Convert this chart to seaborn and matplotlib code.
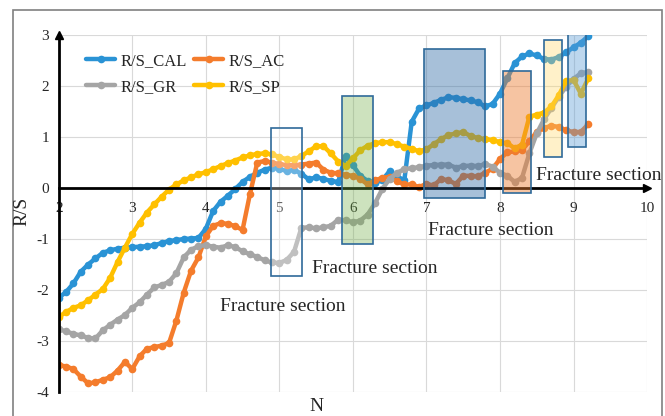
import pandas as pd
import seaborn as sns
import matplotlib.pyplot as plt
from matplotlib.patches import Rectangle

# N values shared by all series
N = [2.0, 2.1, 2.2, 2.3, 2.4, 2.5, 2.6, 2.7, 2.8, 2.9,
     3.0, 3.1, 3.2, 3.3, 3.4, 3.5, 3.6, 3.7, 3.8, 3.9,
     4.0, 4.1, 4.2, 4.3, 4.4, 4.5, 4.6, 4.7, 4.8, 4.9,
     5.0, 5.1, 5.2, 5.3, 5.4, 5.5, 5.6, 5.7, 5.8, 5.9,
     6.0, 6.1, 6.2, 6.3, 6.4, 6.5, 6.6, 6.7, 6.8, 6.9,
     7.0, 7.1, 7.2, 7.3, 7.4, 7.5, 7.6, 7.7, 7.8, 7.9,
     8.0, 8.1, 8.2, 8.3, 8.4, 8.5, 8.6, 8.7, 8.8, 8.9,
     9.0, 9.1, 9.2]

rs_cal = [-2.15, -2.04, -1.87, -1.64, -1.50, -1.38, -1.27, -1.22, -1.19, -1.17,
          -1.16, -1.15, -1.14, -1.12, -1.08, -1.04, -1.02, -1.00, -0.99, -0.98,
          -0.80, -0.45, -0.27, -0.15, -0.02, 0.12, 0.22, 0.30, 0.36, 0.40,
          0.38, 0.33, 0.36, 0.28, 0.17, 0.21, 0.18, 0.14, 0.12, 0.62,
          0.45, 0.24, 0.14, 0.10, 0.16, 0.33, 0.22, 0.16, 1.30, 1.56,
          1.62, 1.67, 1.73, 1.78, 1.77, 1.74, 1.72, 1.68, 1.60, 1.65,
          1.85, 2.15, 2.45, 2.58, 2.64, 2.60, 2.53, 2.52, 2.57, 2.66,
          2.76, 2.85, 2.98]

rs_ac = [-3.47, -3.50, -3.55, -3.70, -3.83, -3.81, -3.76, -3.71, -3.58, -3.41,
         -3.55, -3.30, -3.15, -3.12, -3.09, -3.04, -2.60, -2.05, -1.62, -1.36,
         -0.95, -0.74, -0.69, -0.70, -0.75, -0.82, -0.12, 0.50, 0.53, 0.50,
         0.47, 0.45, 0.45, 0.46, 0.48, 0.50, 0.36, 0.30, 0.29, 0.26,
         0.24, 0.18, 0.07, 0.15, 0.20, 0.22, 0.13, 0.07, 0.07, 0.02,
         0.08, 0.05, 0.18, 0.15, 0.08, 0.24, 0.24, 0.23, 0.30, 0.38,
         0.57, 0.70, 0.72, 0.74, 0.92, 1.10, 1.18, 1.22, 1.20, 1.13,
         1.10, 1.10, 1.25]

rs_gr = [-2.77, -2.81, -2.86, -2.89, -2.94, -2.95, -2.79, -2.68, -2.58, -2.49,
         -2.35, -2.24, -2.09, -1.95, -1.90, -1.84, -1.67, -1.36, -1.21, -1.14,
         -1.12, -1.15, -1.17, -1.12, -1.16, -1.24, -1.30, -1.35, -1.42, -1.46,
         -1.47, -1.41, -1.25, -0.78, -0.77, -0.79, -0.77, -0.74, -0.62, -0.63,
         -0.67, -0.64, -0.52, -0.30, -0.02, 0.18, 0.30, 0.37, 0.39, 0.41,
         0.44, 0.45, 0.46, 0.46, 0.40, 0.43, 0.44, 0.43, 0.47, 0.42,
         0.30, 0.24, 0.12, 0.20, 0.68, 1.07, 1.35, 1.57, 1.79, 1.99,
         2.14, 2.25, 2.28]

rs_sp = [-2.53, -2.43, -2.35, -2.30, -2.20, -2.09, -1.98, -1.76, -1.45, -1.17,
         -0.90, -0.68, -0.48, -0.32, -0.17, -0.03, 0.07, 0.15, 0.21, 0.27,
         0.31, 0.37, 0.43, 0.49, 0.54, 0.60, 0.64, 0.67, 0.68, 0.66,
         0.61, 0.56, 0.56, 0.63, 0.72, 0.82, 0.82, 0.68, 0.52, 0.43,
         0.58, 0.74, 0.83, 0.88, 0.90, 0.90, 0.86, 0.81, 0.77, 0.72,
         0.76, 0.86, 0.96, 1.04, 1.07, 1.10, 1.02, 0.98, 0.96, 0.94,
         0.90, 0.88, 0.78, 0.85, 1.40, 1.44, 1.48, 1.60, 1.82, 2.10,
         2.12, 1.85, 2.15]

series_names = ["R/S_CAL", "R/S_AC", "R/S_GR", "R/S_SP"]
series_colors = ["#2A93D5", "#F47C2C", "#A5A5A5", "#FFC000"]

# fracture boxes: (x0, x1, y0, y1, fill colour, alpha)
boxes = [(4.89, 5.31, -1.73, 1.18, "white", 0.3),
         (5.85, 6.27, -1.10, 1.80, "#70AD47", 0.35),
         (6.97, 7.79, -0.19, 2.72, "#2E6BA6", 0.42),
         (8.04, 8.42, -0.10, 2.29, "#ED7D31", 0.45),
         (8.60, 8.85, 0.61, 2.91, "#FFD966", 0.35),
         (8.92, 9.17, 0.80, 3.12, "#5B9BD5", 0.40)]

# "Fracture section" labels (x, y)
labels = [(4.19, -2.33), (5.45, -1.57), (7.02, -0.84), (8.49, 0.24)]

df = pd.DataFrame({"N": N, "R/S_CAL": rs_cal, "R/S_AC": rs_ac,
                   "R/S_GR": rs_gr, "R/S_SP": rs_sp})
long_df = df.melt(id_vars="N", var_name="series", value_name="RS")

sns.set_style("white")
plt.rcParams['font.family'] = ['Liberation Serif', 'DejaVu Serif']
plt.rcParams['axes.unicode_minus'] = False

fig = plt.figure(figsize=(6.65, 4.16), dpi=100)
ax = fig.add_axes([0.0883, 0.0577, 0.8847, 0.858])

sns.lineplot(data=long_df, x="N", y="RS", hue="series", hue_order=series_names,
             palette=series_colors, marker="o", markersize=5.5, markeredgewidth=0,
             linewidth=3.2, sort=False, estimator=None, ax=ax)

for x0, x1, y0, y1, fc, a in boxes:
    ax.add_patch(Rectangle((x0, y0), x1 - x0, y1 - y0, facecolor=fc, alpha=a,
                           edgecolor="none", zorder=3))
    ax.add_patch(Rectangle((x0, y0), x1 - x0, y1 - y0, facecolor="none",
                           edgecolor="#2F6A9A", linewidth=1.2, zorder=3.1))

for lx, ly in labels:
    ax.text(lx, ly, "Fracture section", fontsize=14, ha="left", va="center", zorder=4)

ax.set_xlim(2, 10)
ax.set_ylim(-4, 3)
ax.set_xticks(range(2, 11))
ax.set_yticks(range(-4, 4))
ax.grid(True, color="#D9D9D9", linewidth=0.8)
ax.set_axisbelow(True)
ax.spines['top'].set_visible(False)
ax.spines['right'].set_visible(False)
ax.spines['bottom'].set_position(('data', 0))
for s in ['left', 'bottom']:
    ax.spines[s].set_linewidth(2)
    ax.spines[s].set_color("black")
ax.tick_params(axis='x', length=0, pad=10, labelsize=11)
ax.tick_params(axis='y', length=0, pad=7, labelsize=11)
ax.plot(1, 0, ">k", markersize=6, transform=ax.get_yaxis_transform(), clip_on=False)
ax.plot(2, 1, "^k", markersize=6, transform=ax.get_xaxis_transform(), clip_on=False)
ax.set_xlabel("")
ax.set_ylabel("")

fig.text(22 / 665, 1 - 211 / 416, "R/S", rotation=90, fontsize=14, ha="center", va="center")
fig.text(316 / 665, 1 - 398 / 416, "N", fontsize=14, ha="center", va="top")

handles, _ = ax.get_legend_handles_labels()
order = [0, 2, 1, 3]
ax.legend([handles[i] for i in order], [series_names[i] for i in order],
          ncol=2, frameon=False, fontsize=12, loc="upper left",
          bbox_to_anchor=(86 / 665, 1 - 53 / 416), bbox_transform=fig.transFigure,
          borderpad=0, borderaxespad=0, handlelength=1.75, handletextpad=0.3,
          columnspacing=0.45, labelspacing=0.6)

fig.add_artist(Rectangle((13 / 665, -0.01), 649 / 665, 1 - 10 / 416 + 0.01,
                         transform=fig.transFigure, facecolor="none",
                         edgecolor="#808080", linewidth=1.2))

fig.savefig("out.png", dpi=100)
